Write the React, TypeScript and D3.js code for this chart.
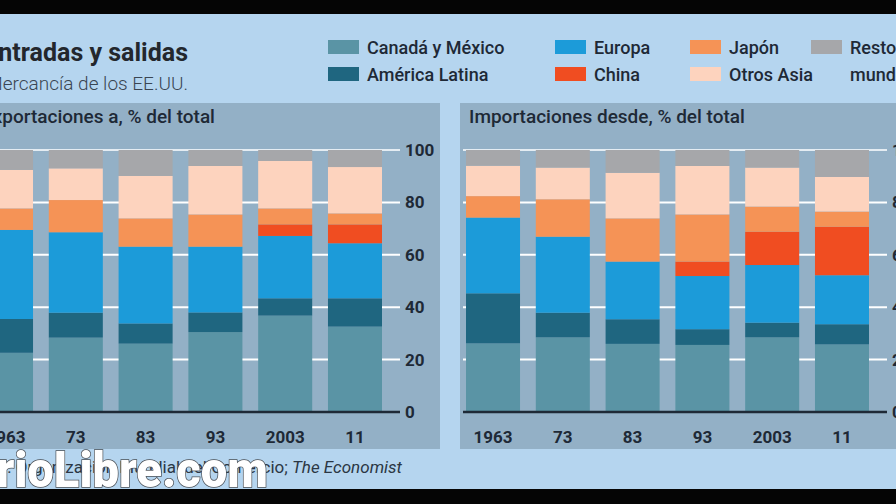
import * as d3 from "d3";

const years = ["1963", "73", "83", "93", "2003", "11"];
const regions = [
  "Canadá y México",
  "América Latina",
  "Europa",
  "China",
  "Japón",
  "Otros Asia",
  "Resto del mundo",
];
const colors = ["#5a94a5", "#1f6680", "#1c9bd9", "#f04d21", "#f59356", "#fdd3be", "#a6a7aa"];

// Exportaciones a (% del total)
const expCanada = [22.6, 28.4, 26.1, 30.5, 36.8, 32.6];
const expLatAm = [12.9, 9.5, 7.7, 7.5, 6.6, 10.8];
const expEurope = [34.0, 30.7, 29.3, 25.1, 23.8, 21.0];
const expChina = [0, 0, 0, 0, 4.4, 7.2];
const expJapan = [8.2, 12.3, 10.8, 12.3, 6.1, 4.2];
const expOtherAsia = [14.7, 12.1, 16.2, 18.5, 18.1, 17.7];
const expRest = [7.6, 7.0, 9.9, 6.1, 4.2, 6.5];

// Importaciones desde (% del total)
const impCanada = [26.2, 28.5, 26.0, 25.6, 28.5, 25.8];
const impLatAm = [19.1, 9.4, 9.4, 6.0, 5.6, 7.7];
const impEurope = [28.9, 29.0, 22.0, 20.3, 22.0, 18.7];
const impChina = [0, 0, 0, 5.5, 12.7, 18.5];
const impJapan = [8.2, 14.3, 16.5, 18.0, 9.6, 5.8];
const impOtherAsia = [11.6, 12.1, 17.4, 18.5, 14.9, 13.2];
const impRest = [6.0, 6.7, 8.7, 6.1, 6.7, 10.3];

const yTicks = [0, 20, 40, 60, 80, 100];

const expSeries = [expCanada, expLatAm, expEurope, expChina, expJapan, expOtherAsia, expRest];
const impSeries = [impCanada, impLatAm, impEurope, impChina, impJapan, impOtherAsia, impRest];

const font = "Roboto, 'Noto Sans', sans-serif";
const ink = "#1e2936";

const toRows = (series: number[][]) =>
  years.map((yr, i) => {
    const row: any = { year: yr };
    regions.forEach((r, k) => (row[r] = series[k][i]));
    return row;
  });

const y = d3.scaleLinear([0, 100], [412, 150]);

const Panel = ({ px, title, series }: { px: number; title: string; series: number[][] }) => {
  const x = d3.scaleBand(years, [px + 6, px + 409]).paddingInner(0.226).paddingOuter(0);
  const stacked = d3.stack().keys(regions)(toRows(series));
  return (
    <g>
      <rect x={px} y={103} width={467} height={346} fill="#93b0c6" />
      <text x={px + 9} y={123} fontSize={19} fontWeight={500} fill={ink} fontFamily={font}>
        {title}
      </text>
      {yTicks.slice(1).map((t) => (
        <line
          key={t}
          x1={px + 3}
          x2={px + 427}
          y1={y(t)}
          y2={y(t)}
          stroke={t === 100 ? "#e4ecf2" : "#ffffff"}
          strokeWidth={2}
        />
      ))}
      {stacked.map((s, k) => (
        <g key={regions[k]} fill={colors[k]}>
          {s.map((d, i) =>
            d[1] - d[0] > 0 ? (
              <rect
                key={i}
                x={x(years[i])}
                width={x.bandwidth()}
                y={y(d[1])}
                height={y(d[0]) - y(d[1])}
              />
            ) : null
          )}
        </g>
      ))}
      <line x1={px + 3} x2={px + 427} y1={y(0)} y2={y(0)} stroke={ink} strokeWidth={2.5} />
      {yTicks.map((t) => (
        <text key={t} x={px + 432} y={y(t) + 6} fontSize={17} fontWeight={700} fill={ink} fontFamily={font}>
          {t}
        </text>
      ))}
      {years.map((yr) => (
        <text
          key={yr}
          x={x(yr)! + x.bandwidth() / 2}
          y={443}
          textAnchor="middle"
          fontSize={17}
          fontWeight={700}
          fill={ink}
          fontFamily={font}
        >
          {yr}
        </text>
      ))}
    </g>
  );
};

const legendCols = [328, 555, 690, 811];
const legendRows = [40, 67];

const App = () => {
  return (
    <svg width={896} height={504} style={{ position: "absolute", left: 0, top: 0 }}>
      <rect width={896} height={504} fill="#b5d5ef" />
      <rect width={896} height={14} fill="#050505" />
      <rect y={489} width={896} height={15} fill="#050505" />

      <text x={188} y={61} textAnchor="end" fontSize={25} fontWeight={700} fill="#23272d" fontFamily={font}>
        Entradas y salidas
      </text>
      <text x={188} y={90} textAnchor="end" fontSize={19} fontWeight={300} fill="#3a4552" fontFamily={font}>
        Mercancía de los EE.UU.
      </text>

      {regions.map((r, k) => {
        const col = Math.floor(k / 2);
        const row = k % 2;
        const lx = legendCols[col];
        const ly = legendRows[row];
        const lines = k === 6 ? ["Resto del", "mundo"] : [r];
        return (
          <g key={r}>
            <rect x={lx} y={ly} width={31} height={14} fill={colors[k]} />
            {lines.map((ln, j) => (
              <text
                key={ln}
                x={lx + 39}
                y={ly + 14 + j * 27}
                fontSize={18}
                fontWeight={500}
                fill={ink}
                fontFamily={font}
              >
                {ln}
              </text>
            ))}
          </g>
        );
      })}

      <Panel px={-27} title="Exportaciones a, % del total" series={expSeries} />
      <Panel px={460} title="Importaciones desde, % del total" series={impSeries} />

      <text x={402} y={473} textAnchor="end" fontSize={17} fill="#2b3744" fontFamily={font}>
        Fuentes: Organización Mundial del Comercio; <tspan fontStyle="italic">The Economist</tspan>
      </text>
      <text
        x={268}
        y={487}
        textAnchor="end"
        fontSize={50}
        fontWeight={900}
        fill="#ffffff"
        stroke="#4a4f55"
        strokeWidth={1.5}
        paintOrder="stroke"
        fontFamily={font}
        textLength={340}
        lengthAdjust="spacingAndGlyphs"
      >
        DiarioLibre.com
      </text>
    </svg>
  );
};

export default App;
